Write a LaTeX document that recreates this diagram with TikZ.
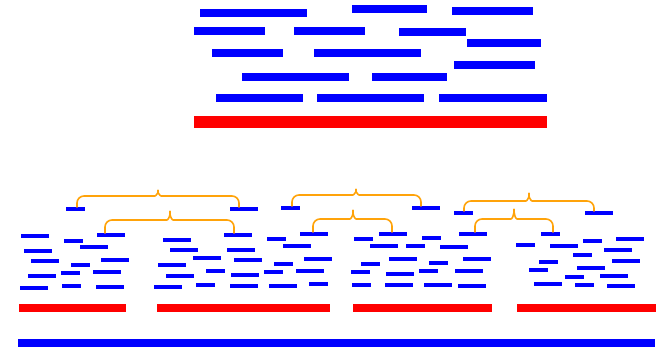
\documentclass[tikz,border=0pt]{standalone}
\usetikzlibrary{calc}
\definecolor{barblue}{RGB}{0,0,255}
\definecolor{barred}{RGB}{255,0,0}
\definecolor{braceorange}{RGB}{255,163,10}
\tikzset{
  bigbar/.style={fill=barblue},
  redbar/.style={fill=barred},
  smallbar/.style={fill=barblue},
  bracestyle/.style={draw=braceorange, line width=1.6pt, line cap=round, line join=round}
}
\newcommand\mybrace[7]{%
  \draw[bracestyle, rounded corners=7] (#1,#6) -- (#1,#4) -- ({#3-10},#4)
     .. controls ({#3-2},#4) and (#3,{#4-4}) .. (#3,#5)
     .. controls (#3,{#4-4}) and ({#3+2},#4) .. ({#3+10},#4)
     -- (#2,#4) -- (#2,#7);%
}
\begin{document}
\begin{tikzpicture}[x=1pt,y=-1pt]
\useasboundingbox (0,0) rectangle (666,348);
% top section
\foreach \a/\b/\c/\d in {200/307/9/17, 352/427/5/13, 452/533/7/15,
  194/265/27/35, 294/365/27/35, 399/466/28/36, 467/541/39/47,
  212/283/49/57, 314/421/49/57, 454/535/61/69,
  242/349/73/81, 372/447/73/81,
  216/303/94/102, 317/424/94/102, 439/547/94/102}
  \fill[bigbar] (\a,\c) rectangle (\b,\d);
\fill[redbar] (194,116) rectangle (547,128);
% bottom long bars
\foreach \a/\b in {19/126, 157/330, 353/492, 517/656}
  \fill[redbar] (\a,304) rectangle (\b,312);
\fill[bigbar] (18,339) rectangle (655,347);
% small bars
\foreach \a/\b/\w in {66/207/19, 230/207/28, 281/206/19, 97/233/28, 224/233/28,
  300/232/28, 412/206/28, 454/211/19, 585/211/28, 379/232/28, 459/232/28, 541/232/19,
  21/234/28, 64/239/19, 80/245/28, 24/249/28, 31/259/28, 101/258/28, 71/263/19,
  61/271/19, 93/270/28, 28/274/28, 20/286/28, 62/284/19, 96/285/28,
  163/238/28, 170/248/28, 193/256/28, 227/248/28, 234/258/28, 158/263/28,
  206/269/19, 166/274/28, 231/273/28, 154/285/28, 196/283/19, 230/284/28,
  267/237/19, 283/244/28, 274/262/19, 304/257/28, 264/270/19, 296/269/28,
  269/284/28, 309/282/19,
  354/237/19, 370/244/28, 406/244/19, 422/236/19, 440/245/28, 361/262/19,
  389/257/28, 429/261/19, 463/257/28, 351/270/19, 386/272/28, 419/269/19,
  455/269/28, 352/283/19, 385/283/28, 424/283/28, 458/284/28,
  516/243/19, 550/244/28, 583/239/19, 616/237/28, 573/253/19, 604/248/28,
  539/260/19, 612/259/28, 529/268/19, 577/266/28, 565/275/19, 600/274/28,
  534/282/28, 575/283/19, 607/284/28}
  \fill[smallbar] (\a,\b) rectangle ({\a+\w},{\b+4});
% braces
\mybrace{77}{239}{158}{196}{186}{207}{207}
\mybrace{105}{234}{170}{220}{207}{233}{233}
\mybrace{292}{421}{356}{195}{185}{206}{206}
\mybrace{313}{392}{353}{219}{206}{232}{232}
\mybrace{464}{594}{529}{201}{189}{211}{211}
\mybrace{475}{553}{514}{219}{205}{232}{232}
\end{tikzpicture}
\end{document}
